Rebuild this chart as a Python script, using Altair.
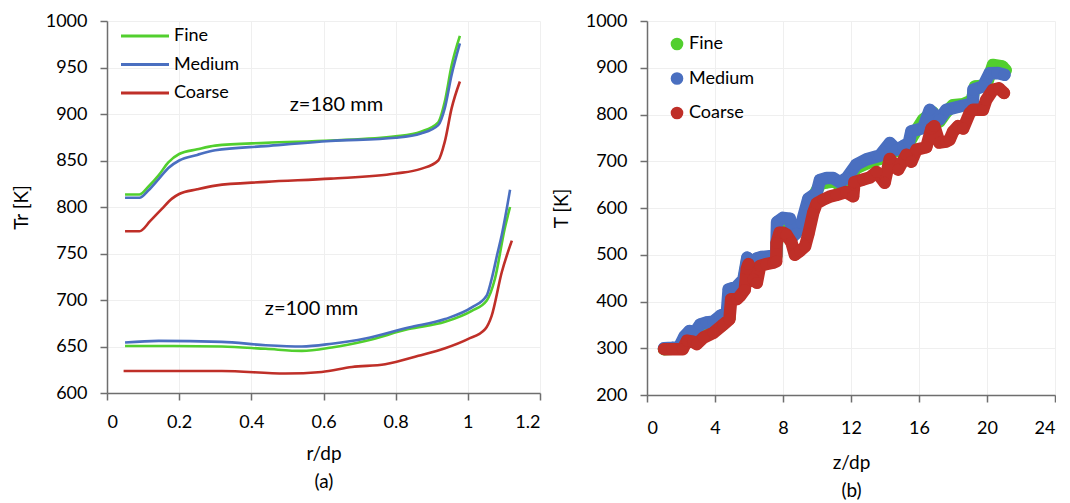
import altair as alt
import pandas as pd

FONT = "Lato"
GREEN = "#52CF2E"
BLUE = "#4A6FC0"
RED = "#BF2F28"
SERIES = ["Fine", "Medium", "Coarse"]

# ---------------- panel (a): radial temperature profiles ----------------
r_fine_180 = [0.05, 0.09, 0.115, 0.143, 0.17, 0.2, 0.25, 0.3, 0.44, 0.62, 0.8, 0.87, 0.918, 0.936, 0.955, 0.978]
T_fine_180 = [813.5, 813.5, 822, 834, 848, 857, 862, 866, 869, 871.5, 876, 881, 891, 913, 952, 984]
r_med_180 = [0.05, 0.09, 0.115, 0.143, 0.17, 0.2, 0.25, 0.3, 0.44, 0.62, 0.8, 0.87, 0.918, 0.936, 0.955, 0.978]
T_med_180 = [810, 810, 818, 830, 842, 850, 856, 861, 865.5, 871, 874.5, 879, 888, 906, 942, 976]
r_coarse_180 = [0.05, 0.09, 0.12, 0.152, 0.18, 0.2, 0.25, 0.3, 0.44, 0.62, 0.8, 0.87, 0.918, 0.936, 0.955, 0.978]
T_coarse_180 = [774, 774, 785, 798, 809, 814, 819, 823, 827, 830.5, 836, 841, 850, 870, 906, 935]

r_fine_100 = [0.05, 0.143, 0.318, 0.44, 0.54, 0.623, 0.716, 0.836, 0.937, 1.011, 1.052, 1.075, 1.102, 1.117]
T_fine_100 = [650.5, 650.5, 650, 647.5, 645.3, 649, 656, 668.7, 676.6, 688.4, 699.2, 722.6, 776.5, 800]
r_med_100 = [0.05, 0.143, 0.318, 0.44, 0.54, 0.623, 0.716, 0.836, 0.937, 1.011, 1.052, 1.066, 1.082, 1.094, 1.117]
T_med_100 = [654.3, 656, 655, 651.4, 650, 653, 658.6, 670.5, 679.5, 692, 704.6, 722.6, 750, 770, 818.5]
r_coarse_100 = [0.046, 0.318, 0.494, 0.595, 0.679, 0.771, 0.863, 0.937, 1.0, 1.048, 1.066, 1.094, 1.122]
T_coarse_100 = [623.7, 623.7, 620.9, 622.6, 628, 631, 640, 648.2, 658, 668.7, 683, 729.8, 763.9]

ann_text = ["z=180 mm", "z=100 mm"]
ann_r = [0.636, 0.567]
ann_T = [910, 690]

# ---------------- panel (b): axial temperature ----------------
z_fine = [1.0, 1.5, 2.0, 2.3, 2.6, 3.0, 3.5, 4.0, 4.5, 4.85, 4.9, 5.3, 5.7, 5.9, 6.2, 6.45, 6.7, 7.24, 7.6, 7.7, 8.0, 8.4, 8.6, 8.8, 9.0, 9.4, 9.6, 9.8, 10.2, 10.6, 11.0, 11.5, 11.8, 12.3, 12.6, 13.1, 13.7, 14.2, 14.7, 15.2, 15.5, 15.7, 16.24, 16.8, 17.2, 17.6, 18.0, 18.6, 19.1, 19.3, 19.95, 20.35, 20.9, 21.1]
T_fine = [298, 299, 301, 318, 322, 322, 330, 338, 352, 365, 420, 428, 445, 490, 475, 488, 492, 494, 496, 560, 570, 568, 548, 548, 558, 585, 612, 625, 652, 655, 657, 645, 660, 685, 690, 698, 705, 732, 722, 728, 745, 758, 789, 805, 785, 805, 820, 822, 830, 860, 862, 906, 903, 895]

z_med = [1.0, 1.5, 1.9, 2.2, 2.5, 2.8, 3.13, 3.5, 3.9, 4.3, 4.7, 4.8, 5.28, 5.67, 5.9, 6.2, 6.45, 6.7, 7.24, 7.6, 7.65, 8.0, 8.4, 8.6, 8.75, 9.1, 9.49, 9.98, 10.17, 10.56, 10.95, 11.35, 11.74, 12.32, 12.91, 13.69, 14.28, 14.67, 15.06, 15.4, 15.55, 15.85, 16.24, 16.63, 17.2, 17.6, 18.38, 19.17, 19.2, 19.76, 20.15, 20.6, 21.03]
T_med = [300, 301, 303, 325, 337, 333, 351, 355, 357, 369, 376, 426, 432, 447, 494, 478, 492, 495, 497, 498, 570, 579, 577, 540, 545, 568, 620, 632, 660, 664, 664, 655, 664, 693, 704, 712, 739, 725, 732, 739, 764, 767, 771, 810, 789, 810, 817, 824, 853, 860, 888, 889, 885]

z_coarse = [1.0, 1.5, 2.1, 2.35, 2.7, 2.93, 3.33, 3.9, 4.5, 4.85, 4.95, 5.28, 5.48, 5.75, 5.87, 5.97, 6.26, 6.46, 6.65, 7.0, 7.43, 7.6, 7.62, 7.8, 8.02, 8.2, 8.5, 8.7, 9.0, 9.3, 9.5, 9.78, 9.98, 10.37, 10.8, 11.15, 11.7, 12.13, 12.2, 12.72, 13.1, 13.5, 13.98, 14.28, 14.77, 15.26, 15.55, 15.85, 16.43, 16.73, 16.9, 17.2, 17.6, 17.8, 18.0, 18.3, 18.6, 18.98, 19.17, 19.76, 19.95, 20.35, 20.7, 21.0]
T_coarse = [298, 298, 298, 316, 314, 309, 323, 333, 351, 362, 405, 405, 412, 425, 470, 480, 447, 440, 476, 480, 483, 486, 525, 547, 547, 543, 526, 500, 508, 518, 545, 590, 610, 618, 625, 628, 634, 625, 655, 661, 665, 677, 654, 705, 682, 714, 699, 725, 730, 770, 775, 740, 742, 746, 763, 775, 770, 803, 810, 810, 831, 853, 856, 846]

# ---------------- tables ----------------
rows = []
for name, prof, rr, tt in [
    ("Fine", "z180", r_fine_180, T_fine_180), ("Medium", "z180", r_med_180, T_med_180),
    ("Coarse", "z180", r_coarse_180, T_coarse_180), ("Fine", "z100", r_fine_100, T_fine_100),
    ("Medium", "z100", r_med_100, T_med_100), ("Coarse", "z100", r_coarse_100, T_coarse_100)]:
    for a, b in zip(rr, tt):
        rows.append({"series": name, "profile": prof, "r": a, "T": b})
df_a = pd.DataFrame(rows)
df_ann = pd.DataFrame({"text": ann_text, "r": ann_r, "T": ann_T})

def series_df(name, zz, tt):
    return pd.DataFrame({"series": name, "z": zz, "T": tt})

df_fine = series_df("Fine", z_fine, T_fine)
df_med = series_df("Medium", z_med, T_med)
df_coarse = series_df("Coarse", z_coarse, T_coarse)

color_scale = alt.Scale(domain=SERIES, range=[GREEN, BLUE, RED])

AX = dict(labelFont=FONT, titleFont=FONT, labelFontSize=18, titleFontSize=19,
          labelColor="#000000", titleColor="#000000", titleFontWeight="normal")

# ---------------- panel (a) chart ----------------
xa = alt.X("r:Q", scale=alt.Scale(domain=[0, 1.2], nice=False),
           axis=alt.Axis(values=[0, 0.2, 0.4, 0.6, 0.8, 1.0, 1.2], format="~g",
                         title=["r/dp", "(a)"], labelPadding=13, titlePadding=13, **AX))
ya = alt.Y("T:Q", scale=alt.Scale(domain=[600, 1000], nice=False),
           axis=alt.Axis(values=list(range(600, 1001, 50)), format="d", title="Tr [K]",
                         labelPadding=13, titlePadding=14, **AX))

lines_a = alt.Chart(df_a).mark_line(strokeWidth=2.6, interpolate="monotone").encode(
    x=xa, y=ya,
    color=alt.Color("series:N", scale=color_scale, sort=SERIES,
                    legend=alt.Legend(title=None, orient="none", legendX=14, legendY=6,
                                      symbolType="M-4.8,0H4.8", symbolSize=100,
                                      symbolStrokeWidth=3, symbolOffset=15,
                                      labelOffset=20, labelFontSize=18, labelFont=FONT,
                                      labelColor="#000000", rowPadding=10.5, padding=0)),
    detail="profile:N",
)
text_a = alt.Chart(df_ann).mark_text(font=FONT, fontSize=20, color="#000000").encode(
    x="r:Q", y="T:Q", text="text:N")
left = alt.layer(lines_a, text_a).properties(width=433, height=372)

# ---------------- panel (b) chart ----------------
xb_axis = alt.Axis(values=list(range(0, 25, 4)), title=["z/dp", "(b)"], labelPadding=17,
                   titlePadding=16, **AX)
yb_axis = alt.Axis(values=list(range(200, 1001, 100)), format="d", title="T [K]",
                   labelPadding=13, titlePadding=14, **AX)
xb = alt.X("z:Q", scale=alt.Scale(domain=[0, 24], nice=False), axis=xb_axis)
yb = alt.Y("T:Q", scale=alt.Scale(domain=[200, 1000], nice=False), axis=yb_axis)

layers_b = []
for d, col in [(df_fine, GREEN), (df_med, BLUE), (df_coarse, RED)]:
    layers_b.append(alt.Chart(d).mark_line(color=col, strokeWidth=12.5, strokeCap="round",
                                           strokeJoin="round").encode(x=xb, y=yb))
    layers_b.append(alt.Chart(d).mark_circle(size=140, opacity=1).encode(
        x=xb, y=yb,
        color=alt.Color("series:N", scale=color_scale, sort=SERIES,
                        legend=alt.Legend(title=None, orient="none", legendX=21, legendY=14,
                                          symbolType="circle", symbolSize=160, symbolOpacity=1,
                                          labelOffset=3, labelFontSize=18, labelFont=FONT,
                                          labelColor="#000000", rowPadding=16.5, padding=0))))
right = alt.layer(*layers_b).properties(width=408, height=374)

chart = alt.hconcat(left, right, spacing=11).resolve_scale(color="independent").properties(
    padding={"left": 12, "top": 12, "right": 0, "bottom": 0}, background="white"
).configure_view(stroke=None).configure_axis(
    labelFont=FONT, titleFont=FONT, labelFontSize=18, titleFontSize=19,
    labelColor="#000000", titleColor="#000000", titleFontWeight="normal",
    domainColor="#6e6e6e", domainWidth=1.5, tickColor="#6e6e6e", tickWidth=1.5, tickSize=7,
    gridColor="#efefef", gridWidth=1, titleLineHeight=28,
)

chart.save("out.html", embed_options={"renderer": "svg", "actions": False})
